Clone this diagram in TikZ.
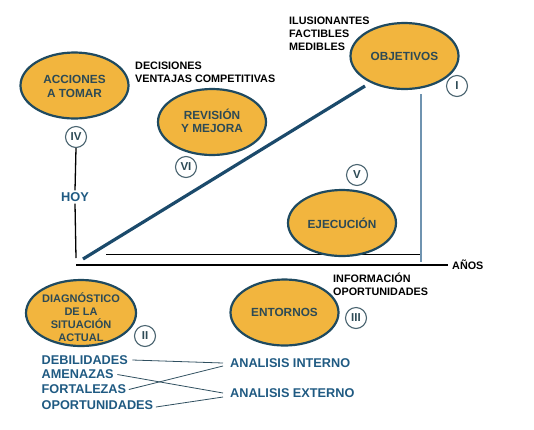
\documentclass[tikz,border=0pt]{standalone}
\usepackage{fontspec}
\setmainfont{Liberation Sans}
\usetikzlibrary{shapes.geometric,calc}
\definecolor{ovalfill}{HTML}{F2B53E}
\definecolor{ovaledge}{HTML}{1F4A60}
\definecolor{ovaltxt}{HTML}{2D4A55}
\definecolor{diag}{HTML}{1B4A6B}
\definecolor{vline}{HTML}{6F93B0}
\definecolor{bluetxt}{HTML}{1F5A82}
\definecolor{circedge}{HTML}{4A6470}
\definecolor{thin}{HTML}{2F4F5F}
\tikzset{
  oval/.style={ellipse, draw=ovaledge, line width=2.2pt, fill=ovalfill, minimum width=108, minimum height=66, inner sep=0pt},
  ovaltext/.style={font=\fontsize{11.8}{13.5}\selectfont\bfseries, text=ovaltxt, align=center, inner sep=0pt},
  numc/.style={circle, draw=circedge, line width=1.1pt, fill=white, minimum size=21, inner sep=0pt, font=\fontsize{11.5}{11.5}\selectfont\bfseries, text=ovaltxt},
  note/.style={font=\fontsize{10.8}{12.8}\selectfont\bfseries, text=black, align=left, anchor=west, inner sep=0pt},
  bluet/.style={font=\fontsize{12.7}{14}\selectfont\bfseries, text=bluetxt, anchor=west, inner sep=1.5pt},
  link/.style={draw=thin, line width=0.8pt},
}
\begin{document}
\begin{tikzpicture}[x=1pt,y=-1pt]
\useasboundingbox (0,0) rectangle (534,429);
% coordinates
\coordinate (d0) at (83,259);
\coordinate (d1) at (365,86);
\coordinate (v0) at (421,94);
\coordinate (v1) at (421,262);
\coordinate (t0) at (106,254);
\coordinate (t1) at (421,254);
\coordinate (a0) at (76,265);
\coordinate (h1) at (76,258);
% background lines
\draw[black, line width=0.8pt] (t0) -- (t1);
\draw[vline, line width=1.4pt] (v0) -- (v1);
\draw[diag, line width=3.2pt] (d0) -- (d1);
\node[note] (anos) at (452,265) {AÑOS};
\draw[black, line width=2.4pt] (a0) -- ($(anos.west)+(-4,0)$);
% ovals
\node[oval] (acc) at (74.5,85.5) {};
\node[ovaltext] (acct) at (74.5,86.5) {ACCIONES\\A TOMAR};
\node[oval] (rev) at (212,122) {};
\node[ovaltext] (revt) at (212,121) {REVISIÓN\\Y MEJORA};
\node[oval] (obj) at (404.5,56) {};
\node[ovaltext] (objt) at (404.5,56) {OBJETIVOS};
\node[oval] (eje) at (342,223) {};
\node[ovaltext] (ejet) at (342,223) {EJECUCIÓN};
\node[oval, minimum width=110] (dia) at (81,313) {};
\node[ovaltext, font=\fontsize{11}{13}\selectfont\bfseries] (diat) at (81,317) {DIAGNÓSTICO\\DE LA\\SITUACIÓN\\ACTUAL};
\node[oval] (ent) at (284.5,312.5) {};
\node[ovaltext] (entt) at (284.5,312.5) {ENTORNOS};
% numbers
\node[numc] (iv) at (76,137) {IV};
\node[numc] (vi) at (186,167) {VI};
\node[numc] (n1) at (457,86) {I};
\node[numc] (nv) at (357,175) {V};
\node[numc] (n2) at (145,336) {II};
\node[numc] (n3) at (356,318) {III};
% HOY
\node[font=\fontsize{12.8}{14}\selectfont\bfseries, text=bluetxt, inner sep=2pt] (hoy) at (75,197) {HOY};
\draw[thin, line width=1.3pt] (iv.south) -- (hoy.north);
\draw[thin, line width=1.3pt] (hoy.south) -- (h1);
% notes
\node[note] (dec) at (135,72) {DECISIONES\\VENTAJAS COMPETITIVAS};
\node[note] (ilu) at (289,34) {ILUSIONANTES\\FACTIBLES\\MEDIBLES};
\node[note] (inf) at (333,284.5) {INFORMACIÓN\\OPORTUNIDADES};
% list
\node[bluet] (deb) at (40,360) {DEBILIDADES};
\node[bluet] (ame) at (40,374.5) {AMENAZAS};
\node[bluet] (for) at (40,389.5) {FORTALEZAS};
\node[bluet] (opo) at (40,405) {OPORTUNIDADES};
\node[bluet, inner sep=0pt] (int) at (230,363) {ANALISIS INTERNO};
\node[bluet, inner sep=0pt] (ext) at (230,393) {ANALISIS EXTERNO};
\draw[link] ($(deb.east)+(3,0)$) -- ($(int.west)+(-7,0)$);
\draw[link] ($(ame.east)+(2,0)$) -- ($(ext.west)+(-7,0)$);
\draw[link] ($(for.east)+(1,0)$) -- ($(int.west)+(-7,3)$);
\draw[link] ($(opo.east)+(1,2)$) -- ($(ext.west)+(-7,4)$);
\end{tikzpicture}
\end{document}
